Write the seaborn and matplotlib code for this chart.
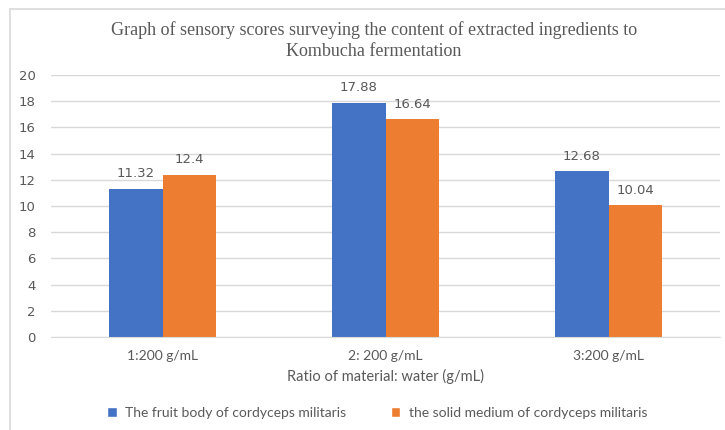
import pandas as pd
import numpy as np
import seaborn as sns
import matplotlib.pyplot as plt
from matplotlib.patches import Rectangle, Patch

# Datos
ratios = ['1:200 g/mL', '2: 200 g/mL', '3:200 g/mL']
series_names = ['The fruit body of cordyceps militaris',
                'the solid medium of cordyceps militaris']
fruit_body = [11.32, 17.88, 12.68]
solid_medium = [12.4, 16.64, 10.04]
value_labels = [['11.32', '17.88', '12.68'], ['12.4', '16.64', '10.04']]

data = pd.DataFrame({
    'ratio': ratios * 2,
    'serie': [series_names[0]] * 3 + [series_names[1]] * 3,
    'score': fruit_body + solid_medium,
})

# Estilo
blue = '#4472C4'
orange = '#ED7D31'
text_color = '#595959'
grid_color = '#D9D9D9'

sns.set_style('white')
plt.rcParams['font.family'] = ['Lato', 'DejaVu Sans']

fig = plt.figure(figsize=(7.25, 4.30), dpi=100)
ax = fig.add_axes([51 / 725, 1 - 337 / 430, (720 - 51) / 725, (337 - 75) / 430])

sns.barplot(data=data, x='ratio', y='score', hue='serie', order=ratios,
            hue_order=series_names, palette=[blue, orange], width=0.477,
            gap=0, ax=ax, legend=False, saturation=1, linewidth=0)

# Etiquetas de valores
for container, labels in zip(ax.containers, value_labels):
    ax.bar_label(container, labels=labels, padding=6, fontsize=9.5,
                 color=text_color, family='DejaVu Sans')

ax.set_ylim(0, 20)
ax.set_xlim(-0.5, 2.5)
ax.set_yticks(np.arange(0, 21, 2))
ax.yaxis.grid(True, color=grid_color, lw=1)
ax.set_axisbelow(True)
for side in ['top', 'right', 'left']:
    ax.spines[side].set_visible(False)
ax.spines['bottom'].set_color(grid_color)
ax.tick_params(axis='both', length=0, colors=text_color)
ax.tick_params(axis='y', pad=11, labelsize=9.5)
ax.tick_params(axis='x', pad=9, labelsize=10)
for lbl in ax.get_yticklabels():
    lbl.set_family('DejaVu Sans')

ax.set_ylabel('')
ax.set_xlabel('Ratio of material: water (g/mL)', fontsize=10.5,
              color=text_color, labelpad=5)

# Título
fig.text(374 / 725, 1 - 41 / 430,
         'Graph of sensory scores surveying the content of extracted ingredients to\nKombucha fermentation',
         ha='center', va='center', fontsize=13, color=text_color,
         family='Liberation Serif', linespacing=1.3)

# Leyenda
handles = [Patch(facecolor=blue), Patch(facecolor=orange)]
fig.legend(handles, series_names, loc='center', ncol=2,
           bbox_to_anchor=(377 / 725, 1 - 413 / 430), frameon=False,
           fontsize=10, labelcolor=text_color, handlelength=0.7,
           handleheight=0.7, handletextpad=0.6, columnspacing=3.2)

# Borde del gráfico
fig.patches.append(Rectangle((10 / 725, -0.05), 1.0, 1 - 9 / 430 + 0.05,
                             transform=fig.transFigure, fill=False,
                             edgecolor=grid_color, lw=1.2))

plt.savefig('out.png', dpi=100)
plt.close()
